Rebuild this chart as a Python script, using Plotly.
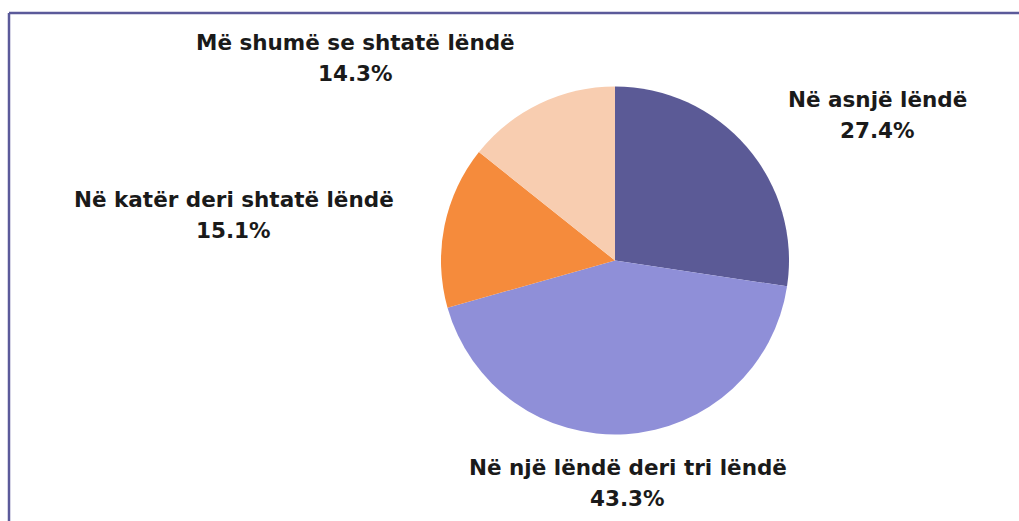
import plotly.graph_objects as go

categories = [
    "Në asnjë lëndë",
    "Në një lëndë deri tri lëndë",
    "Në katër deri shtatë lëndë",
    "Më shumë se shtatë lëndë",
]
values = [27.4, 43.3, 15.1, 14.3]
colors = ["#5b5a96", "#8f8fd8", "#f58b3c", "#f8cdb0"]

W, H = 1019, 521
# label name-line centers (pixels), layout only
label_pos = [(877, 99.5), (627.5, 467), (233.5, 199.5), (355.5, 42)]
LINE_GAP = 31

cx, cy, r = 615, 260.5, 174

fig = go.Figure(go.Pie(
    labels=categories,
    values=values,
    marker=dict(colors=colors, line=dict(width=0)),
    sort=False,
    direction="clockwise",
    rotation=0,
    textinfo="none",
    hoverinfo="label+percent",
    showlegend=False,
    domain=dict(x=[(cx - r) / W, (cx + r) / W], y=[(H - cy - r) / H, (H - cy + r) / H]),
))

font = dict(family="DejaVu Sans", size=21.5, color="#1a1a1a", weight=600)
for cat, val, (px, py) in zip(categories, values, label_pos):
    for txt, yy in ((cat, py), (f"{val:.1f}%", py + LINE_GAP)):
        fig.add_annotation(
            x=px / W, y=1 - yy / H, xref="paper", yref="paper",
            text=txt, showarrow=False, xanchor="center", yanchor="middle",
            font=font, align="center",
        )

border = dict(color="#5b5a9a", width=2.5)
top_y = 1 - 13 / H
left_x = 9 / W
fig.add_shape(type="line", xref="paper", yref="paper",
              x0=left_x, x1=1.0, y0=top_y, y1=top_y, line=border)
fig.add_shape(type="line", xref="paper", yref="paper",
              x0=left_x, x1=left_x, y0=0.0, y1=top_y, line=border)

fig.update_layout(
    width=W, height=H,
    margin=dict(l=0, r=0, t=0, b=0),
    paper_bgcolor="white", plot_bgcolor="white",
)

fig.write_html(
    "out.html",
    config={"displayModeBar": False},
    post_script=(
        "document.documentElement.style.margin='0';"
        "document.body.style.margin='0';"
        "document.documentElement.style.overflow='hidden';"
        "document.body.style.overflow='hidden';"
    ),
)
